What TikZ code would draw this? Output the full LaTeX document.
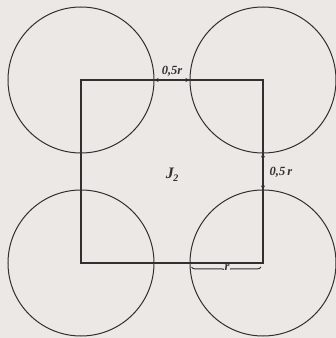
\documentclass[tikz,border=0pt]{standalone}
\usepackage{fontspec}
\setmainfont{Liberation Serif}
\usetikzlibrary{arrows.meta,decorations.pathreplacing}
\definecolor{paper}{RGB}{236,232,229}
\definecolor{ink}{RGB}{50,47,47}
\begin{document}
\begin{tikzpicture}[x=1pt,y=1pt,
  disc/.style={circle,draw=ink,line width=1pt,minimum size=146pt,inner sep=0pt},
  dim/.style={draw=ink,line width=0.7pt,{Stealth[length=4pt,width=4pt]}-{Stealth[length=4pt,width=4pt]}},
  lab/.style={text=ink,font=\fontsize{12.5}{14}\selectfont\bfseries\itshape,inner sep=1pt}]
\fill[paper] (0,0) rectangle (336,338);
\useasboundingbox (0,0) rectangle (336,338);
\node[disc] (c1) at (81,258) {};
\node[disc] (c2) at (263,258) {};
\node[disc] (c3) at (81,75) {};
\node[disc] (c4) at (263,75) {};
\draw[ink,line width=1.3pt] (c1.center) -- (c2.center) -- (c4.center) -- (c3.center) -- cycle;
\draw[dim] (c1.east) -- (c2.west);
\node[lab] (t1) at (172,267) {0,5r};
\draw[dim] (c2.south) -- (c4.north);
\node[lab] (t2) at (281,166) {0,5\,r};
\node[text=ink,font=\fontsize{16}{18}\selectfont\bfseries\itshape] (j) at (172,163) {J\kern-0.5pt\raisebox{-3pt}{\fontsize{10}{12}\selectfont 2}};
\draw[ink,line width=1pt,decorate,decoration={brace,mirror,amplitude=4pt}]
  ([xshift=2pt,yshift=-4pt]c4.west) -- ([xshift=-2pt,yshift=-4pt]c4.center);
\node[lab,fill=paper,inner sep=1pt] (t3) at (227,70) {r};
\end{tikzpicture}
\end{document}
